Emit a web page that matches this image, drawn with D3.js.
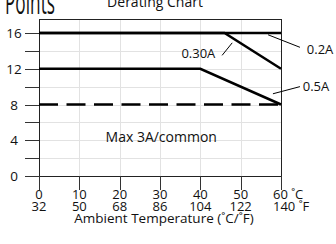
<!DOCTYPE html>
<html>
<head>
<meta charset="utf-8">
<script src="https://cdn.jsdelivr.net/npm/d3@7"></script>
<style>
  body { margin: 0; background: #fff; }
  svg text { font-family: "Open Sans", sans-serif; fill: #111; }
</style>
</head>
<body>
<svg id="chart" width="336" height="244"></svg>
<script>
// data
let tempC = [0, 10, 20, 30, 40, 50, 60];
let tempF = [32, 50, 68, 86, 104, 122, 140];
let pointTicks = [0, 2, 4, 6, 8, 10, 12, 14, 16];
let pointLabels = [0, 4, 8, 12, 16];

let line02A = [[0, 16], [60, 16]];
let line030A = [[0, 16], [46, 16], [60, 12]];
let line05A = [[0, 12], [40, 12], [60, 8]];
let lineCommon = [[0, 8], [60, 8]];

// label, text anchor point, leader from, leader to (data units)
let callouts = [
  { text: "0.30A", at: [35.3, 13.2], from: [45.4, 13.5], to: [47.9, 14.9] },
  { text: "0.2A",  at: [66.4, 13.7], from: [64.7, 14.4], to: [56.8, 15.8] },
  { text: "0.5A",  at: [65.4, 9.5],  from: [64.7, 10.0], to: [58.0, 9.2] }
];

let margins = { top: 19, left: 39 };
let plotW = 242;
let yTop = 17.55;

let xScale = d3.scaleLinear().domain([0, 60]).range([margins.left, margins.left + plotW]);
let yScale = d3.scaleLinear().domain([0, 16]).range([176, 33]);

let svg = d3.select("#chart");

// grid
svg.append("g")
  .selectAll("line")
  .data(pointTicks.filter(d => d > 0))
  .join("line")
  .attr("x1", xScale(0)).attr("x2", xScale(60))
  .attr("y1", d => Math.round(yScale(d)) + 0.5).attr("y2", d => Math.round(yScale(d)) + 0.5)
  .style("stroke", "#e2e2e2");

svg.append("g")
  .selectAll("line")
  .data(tempC.slice(1, -1))
  .join("line")
  .attr("x1", d => Math.round(xScale(d)) + 0.5).attr("x2", d => Math.round(xScale(d)) + 0.5)
  .attr("y1", yScale(0)).attr("y2", yScale(yTop))
  .style("stroke", "#e2e2e2");

// frame
svg.append("rect")
  .attr("x", xScale(0) + 0.5)
  .attr("y", Math.round(yScale(yTop)) + 0.5)
  .attr("width", xScale(60) - xScale(0))
  .attr("height", yScale(0) - Math.round(yScale(yTop)))
  .style("fill", "none")
  .style("stroke", "#222");

// left ticks
svg.append("g")
  .selectAll("line")
  .data(pointTicks)
  .join("line")
  .attr("x1", 25).attr("x2", xScale(0))
  .attr("y1", d => Math.round(yScale(d)) + 0.5).attr("y2", d => Math.round(yScale(d)) + 0.5)
  .style("stroke", "#333");

svg.append("g")
  .selectAll("text")
  .data(pointLabels)
  .join("text")
  .attr("x", 14)
  .attr("y", d => yScale(d) + 5)
  .attr("text-anchor", "middle")
  .style("font-size", "13.5px")
  .text(d => d);

// bottom ticks
svg.append("g")
  .selectAll("line")
  .data(tempC)
  .join("line")
  .attr("x1", d => Math.round(xScale(d)) + 0.5).attr("x2", d => Math.round(xScale(d)) + 0.5)
  .attr("y1", yScale(0)).attr("y2", 190)
  .style("stroke", "#333");

let last = tempC.length - 1;

svg.append("g")
  .selectAll("text")
  .data(tempC)
  .join("text")
  .attr("x", (d, i) => i === last ? xScale(d) - 8 : xScale(d))
  .attr("y", 199)
  .attr("text-anchor", (d, i) => i === last ? "start" : "middle")
  .style("font-size", "13px")
  .text((d, i) => i === last ? d + " ˚C" : d);

svg.append("g")
  .selectAll("text")
  .data(tempF)
  .join("text")
  .attr("x", (d, i) => i === last ? xScale(tempC[i]) - 8 : xScale(tempC[i]))
  .attr("y", 211)
  .attr("text-anchor", (d, i) => i === last ? "start" : "middle")
  .style("font-size", "13px")
  .text((d, i) => i === last ? d + " ˚F" : d);

svg.append("text")
  .attr("x", 164).attr("y", 223)
  .attr("text-anchor", "middle")
  .style("font-size", "13.5px")
  .text("Ambient Temperature (˚C/˚F)");

// titles (clipped at top)
svg.append("text")
  .attr("transform", "translate(5,14) scale(1,1.5)")
  .attr("textLength", 50).attr("lengthAdjust", "spacingAndGlyphs")
  .style("font-size", "22px").text("Points");
svg.append("text").attr("x", 155).attr("y", 7)
  .attr("text-anchor", "middle")
  .style("font-size", "14px").text("Derating Chart");

// lines
let line = d3.line()
  .x(d => xScale(d[0]))
  .y(d => yScale(d[1]));

[line02A, line030A, line05A].forEach(function(s) {
  svg.append("path")
    .attr("d", line(s))
    .style("fill", "none")
    .style("stroke", "#000")
    .style("stroke-width", 2.5);
});

svg.append("path")
  .attr("d", line(lineCommon))
  .style("fill", "none")
  .style("stroke", "#000")
  .style("stroke-width", 2.5)
  .style("stroke-dasharray", "19,8.5");

// callouts
callouts.forEach(function(c) {
  svg.append("line")
    .attr("x1", xScale(c.from[0])).attr("y1", yScale(c.from[1]))
    .attr("x2", xScale(c.to[0])).attr("y2", yScale(c.to[1]))
    .style("stroke", "#000").style("stroke-width", 1);
  svg.append("text")
    .attr("x", xScale(c.at[0])).attr("y", yScale(c.at[1]))
    .style("font-size", "13px")
    .text(c.text);
});

svg.append("text")
  .attr("x", xScale(16.5)).attr("y", 142)
  .style("font-size", "14px")
  .text("Max 3A/common");
</script>
</body>
</html>
